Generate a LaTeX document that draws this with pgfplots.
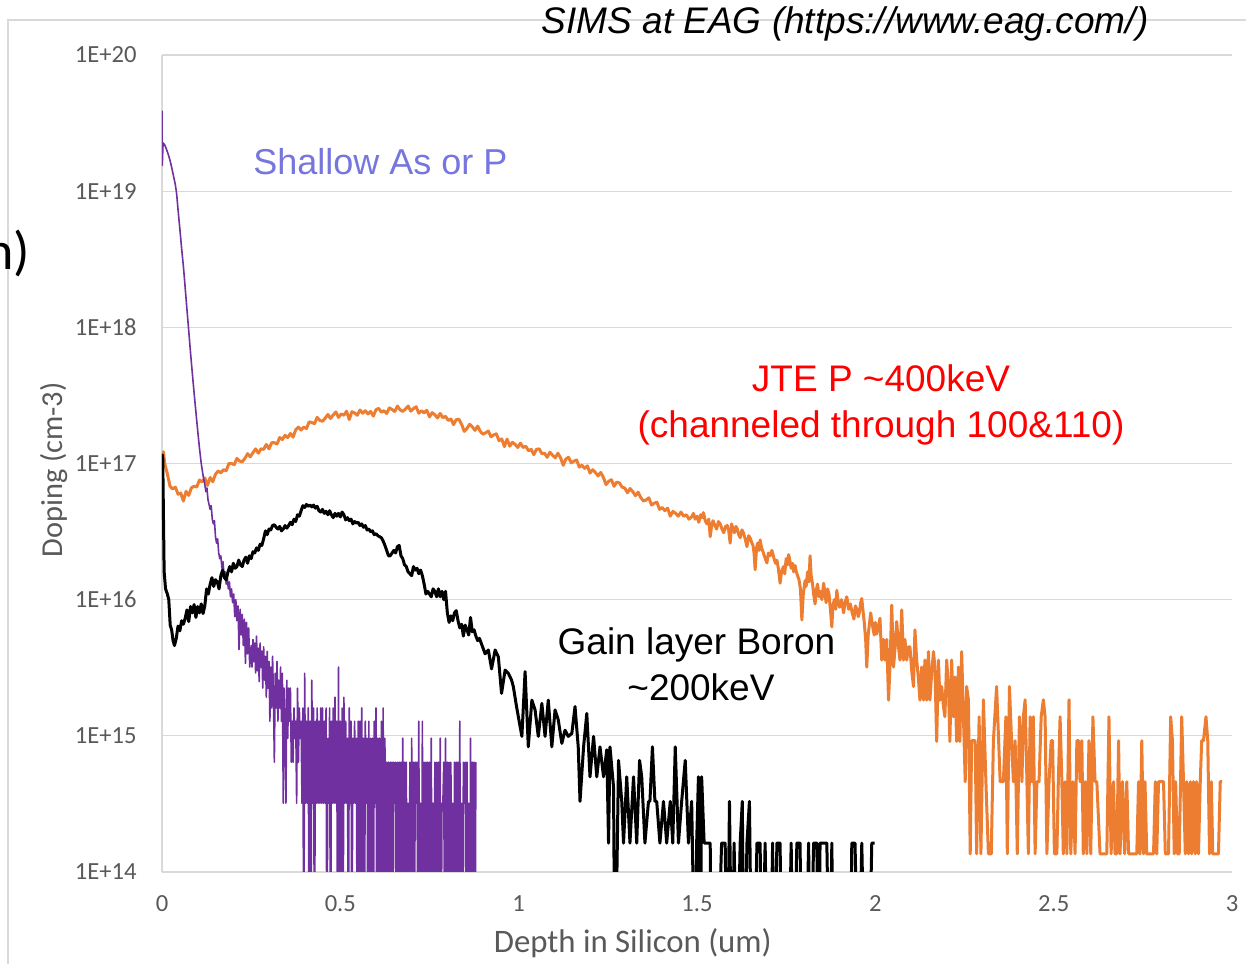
\documentclass[border=0pt]{standalone}
\usepackage{pgfplots}
\pgfplotsset{compat=1.18}
\usepackage{fontspec}
\setmainfont{Carlito}
\newfontfamily\arialf{Liberation Sans}
\definecolor{gridgray}{HTML}{D9D9D9}
\definecolor{txtgray}{HTML}{595959}
\definecolor{xlorange}{HTML}{ED7D31}
\definecolor{xlpurple}{HTML}{7030A0}
\definecolor{lblblue}{RGB}{118,118,222}
\begin{document}
\begin{tikzpicture}
\useasboundingbox (-81pt,-45.5pt) rectangle (542pt,436pt);
\draw[gridgray, line width=0.6pt] (-77pt,-60pt) -- (-77pt,426pt) -- (560pt,426pt);
\node[anchor=base east, font=\fontsize{27}{30}\selectfont, inner sep=0pt] at (-65.75pt,301pt) {n)};
\begin{axis}[
  width=535pt, height=408.5pt, scale only axis,
  xmin=0, xmax=3, ymin=1e14, ymax=1e20, ymode=log,
  axis x line*=bottom, axis y line*=left,
  axis line style={gridgray, line width=0.6pt, -},
  ymajorgrids, grid style={gridgray, line width=0.6pt},
  xtick={0,0.5,1,1.5,2,2.5,3}, xticklabels={0,0.5,1,1.5,2,2.5,3},
  ytick={1e14,1e15,1e16,1e17,1e18,1e19,1e20},
  yticklabels={1E+14,1E+15,1E+16,1E+17,1E+18,1E+19,1E+20},
  major tick length=0pt, minor tick length=0pt, yminorticks=false,
  tick label style={font=\fontsize{12.3}{14}\selectfont, text=txtgray, inner sep=0pt},
  xticklabel style={anchor=north, yshift=-11.5pt},
  yticklabel style={anchor=east, xshift=-12.5pt},
  xlabel={Depth in Silicon (um)}, ylabel={Doping (cm-3)},
  xlabel style={font=\fontsize{16.4}{19}\selectfont, text=txtgray, inner sep=0pt, at={(axis description cs:0.440,-0.098)}, anchor=base},
  ylabel style={font=\fontsize{15.2}{18}\selectfont, text=txtgray, inner sep=0pt, at={(axis description cs:-0.0929,0.492)}, anchor=base},
]
% ---------------- JTE P (orange) ----------------
\addplot[xlorange, line width=1.5pt, line join=round, mark=none] table {
x y
0.000 8.7e16
0.004 12.2e16
0.0075 10.0e16
0.015 8.4e16
0.0225 6.8e16
0.030 6.5e16
0.0375 6.7e16
0.045 5.95e16
0.0525 6.06e16
0.060 5.3e16
0.0675 6.24e16
0.075 5.83e16
0.0825 6.63e16
0.090 6.8e16
0.0975 6.72e16
0.105 7.56e16
0.1125 7.33e16
0.120 7.83e16
0.1275 6.9e16
0.135 7.88e16
0.1425 7.35e16
0.150 8.34e16
0.1575 8.82e16
0.165 8.53e16
0.1725 9.0e16
0.180 8.84e16
0.1875 9.98e16
0.195 10.0e16
0.2025 9.8e16
0.210 10.9e16
0.2175 10.4e16
0.225 10.3e16
0.2325 10.9e16
0.240 11.8e16
0.2475 11.2e16
0.255 12.0e16
0.2625 12.8e16
0.270 11.9e16
0.2775 12.8e16
0.285 12.7e16
0.2925 13.8e16
0.300 12.8e16
0.3075 14.2e16
0.315 14.2e16
0.3225 13.9e16
0.330 15.5e16
0.3375 15.0e16
0.345 16.1e16
0.3525 15.5e16
0.360 16.6e16
0.3675 15.6e16
0.375 17.7e16
0.3825 18.5e16
0.390 17.6e16
0.3975 18.5e16
0.405 18.05e16
0.4125 20.2e16
0.420 20.0e16
0.4275 19.6e16
0.435 21.8e16
0.4425 20.7e16
0.450 20.4e16
0.4575 21.5e16
0.465 22.9e16
0.4725 21.4e16
0.480 22.7e16
0.4875 23.9e16
0.495 21.8e16
0.5025 23.1e16
0.510 22.6e16
0.5175 24.2e16
0.525 21.0e16
0.5325 24.0e16
0.540 23.5e16
0.5475 22.6e16
0.555 24.7e16
0.5625 23.4e16
0.570 24.4e16
0.5775 23.1e16
0.585 24.1e16
0.5925 22.3e16
0.600 24.8e16
0.6075 25.4e16
0.615 23.8e16
0.6225 24.4e16
0.630 23.3e16
0.6375 25.6e16
0.645 24.9e16
0.6525 24.1e16
0.660 26.4e16
0.6675 24.75e16
0.675 24.1e16
0.6825 25.1e16
0.690 26.4e16
0.6975 24.25e16
0.705 25.3e16
0.7125 26.1e16
0.720 23.4e16
0.7275 24.4e16
0.735 23.5e16
0.7425 24.6e16
0.750 22.0e16
0.7575 23.6e16
0.765 22.8e16
0.7725 21.6e16
0.780 23.3e16
0.7875 21.7e16
0.795 22.2e16
0.8025 20.7e16
0.810 21.2e16
0.8175 19.3e16
0.825 21.0e16
0.8325 21.1e16
0.840 19.4e16
0.8475 17.2e16
0.855 18.1e16
0.8625 19.4e16
0.870 18.6e16
0.8775 17.5e16
0.885 18.8e16
0.8925 17.2e16
0.900 16.4e16
0.9075 16.8e16
0.915 17.3e16
0.9225 15.7e16
0.930 16.2e16
0.9375 16.5e16
0.945 14.7e16
0.9525 15.15e16
0.960 13.3e16
0.9675 15.1e16
0.975 13.4e16
0.9825 14.3e16
0.990 13.8e16
0.9975 13.1e16
1.005 14.1e16
1.0125 13.1e16
1.020 13.4e16
1.0275 12.4e16
1.035 12.7e16
1.0425 11.6e16
1.050 12.7e16
1.0575 12.8e16
1.065 11.8e16
1.0725 11.9e16
1.080 11.1e16
1.0875 12.1e16
1.095 11.5e16
1.1025 11.0e16
1.110 11.9e16
1.1175 11.0e16
1.125 9.7e16
1.1325 10.8e16
1.140 11.1e16
1.1475 10.1e16
1.155 10.4e16
1.1625 10.6e16
1.170 9.4e16
1.1775 9.7e16
1.185 9.2e16
1.1925 9.6e16
1.200 8.5e16
1.2075 9.0e16
1.215 8.6e16
1.2225 8.1e16
1.230 8.6e16
1.2375 7.9e16
1.245 7.0e16
1.2525 7.4e16
1.260 7.6e16
1.2675 6.8e16
1.275 7.3e16
1.2825 7.2e16
1.290 6.7e16
1.2975 6.6e16
1.305 6.1e16
1.3125 6.55e16
1.320 6.2e16
1.3275 5.8e16
1.335 6.15e16
1.3425 5.6e16
1.350 5.3e16
1.3575 5.4e16
1.365 5.6e16
1.3725 4.95e16
1.380 5.1e16
1.3875 5.2e16
1.395 4.6e16
1.4025 4.75e16
1.410 4.5e16
1.4175 4.7e16
1.425 4.1e16
1.4325 4.45e16
1.440 4.3e16
1.4475 4.1e16
1.455 4.4e16
1.4625 4.1e16
1.470 4.2e16
1.4775 3.9e16
1.485 4.05e16
1.490 4.3e16
1.495 3.9e16
1.500 4.1e16
1.505 3.7e16
1.510 4.2e16
1.514 4.0e16
1.518 4.35e16
1.523 3.8e16
1.528 3.6e16
1.533 3.9e16
1.537 2.9e16
1.541 3.5e16
1.545 3.8e16
1.550 3.5e16
1.555 3.3e16
1.560 3.75e16
1.565 3.6e16
1.570 3.3e16
1.575 3.1e16
1.580 3.45e16
1.585 3.5e16
1.589 3.2e16
1.593 2.6e16
1.597 3.6e16
1.601 3.3e16
1.605 3.1e16
1.609 3.45e16
1.613 3.3e16
1.617 3.0e16
1.621 2.85e16
1.626 3.25e16
1.630 3.1e16
1.635 2.8e16
1.640 2.45e16
1.645 2.95e16
1.650 2.8e16
1.654 2.6e16
1.657 2.5e16
1.660 2.2e16
1.663 1.66e16
1.667 2.4e16
1.670 2.6e16
1.674 2.3e16
1.677 2.75e16
1.681 2.4e16
1.685 2.25e16
1.690 2.05e16
1.696 1.86e16
1.700 2.2e16
1.705 2.1e16
1.710 2.3e16
1.715 2.05e16
1.720 1.85e16
1.724 1.95e16
1.728 1.7e16
1.733 1.32e16
1.737 1.6e16
1.742 1.75e16
1.746 1.55e16
1.750 2.0e16
1.754 1.8e16
1.757 2.14e16
1.761 1.9e16
1.764 1.7e16
1.768 1.85e16
1.771 1.6e16
1.775 1.78e16
1.778 1.62e16
1.782 1.5e16
1.786 1.4e16
1.790 1.2e16
1.794 0.71e16
1.798 1.1e16
1.803 1.38e16
1.806 1.25e16
1.810 1.6e16
1.814 1.35e16
1.817 2.1e16
1.820 1.5e16
1.824 1.3e16
1.827 1.1e16
1.831 0.93e16
1.835 1.2e16
1.838 1.3e16
1.842 1.05e16
1.846 1.15e16
1.850 1.0e16
1.855 1.32e16
1.859 1.1e16
1.862 0.95e16
1.866 1.2e16
1.870 1.1e16
1.874 0.85e16
1.878 0.63e16
1.881 0.9e16
1.885 1.0e16
1.889 0.85e16
1.892 1.17e16
1.896 0.95e16
1.900 0.88e16
1.905 1.0e16
1.911 0.8e16
1.915 0.95e16
1.920 1.05e16
1.925 0.85e16
1.930 0.93e16
1.935 0.8e16
1.940 0.72e16
1.944 0.9e16
1.948 0.85e16
1.952 0.75e16
1.955 0.8e16
1.959 0.95e16
1.962 1.02e16
1.966 0.8e16
1.969 0.68e16
1.973 0.5e16
1.976 0.32e16
1.980 0.55e16
1.983 0.65e16
1.987 0.8e16
1.990 0.7e16
1.994 0.6e16
1.997 0.55e16
2.000 0.68e16
2.004 0.56e16
2.008 0.62e16
2.013 7.3e15
2.018 3.6e15
2.023 5.1e15
2.027 3.6e15
2.032 5.1e15
2.037 1.83e15
2.041 3.2e15
2.046 9.1e15
2.051 3.2e15
2.055 4.3e15
2.060 6.9e15
2.065 4.5e15
2.069 3.6e15
2.074 8.4e15
2.079 3.6e15
2.083 5.1e15
2.088 3.6e15
2.093 4.5e15
2.097 4.5e15
2.102 3.0e15
2.107 2.3e15
2.111 6.0e15
2.116 3.6e15
2.121 2.6e15
2.125 1.83e15
2.130 3.2e15
2.135 1.83e15
2.139 3.6e15
2.144 1.83e15
2.149 4.15e15
2.153 1.83e15
2.158 2.9e15
2.163 4.15e15
2.167 3.2e15
2.172 9.1e14
2.177 3.6e15
2.181 1.83e15
2.186 2.3e15
2.191 1.64e15
2.195 1.38e15
2.200 3.6e15
2.205 2.3e15
2.209 9.1e14
2.214 3.6e15
2.219 1.38e15
2.223 2.7e15
2.228 9.1e14
2.233 3.2e15
2.237 9.1e14
2.242 4.15e15
2.247 1.38e15
2.252 4.6e14
2.256 2.3e15
2.261 1.83e15
2.266 1.36e14
2.270 9.2e14
2.280 9.2e14
2.284 1.36e14
2.291 1.38e15
2.296 1.36e14
2.303 1.84e15
2.310 4.6e14
2.317 1.36e14
2.325 1.36e14
2.331 9.2e14
2.340 2.3e15
2.350 4.6e14
2.359 4.6e14
2.366 1.38e15
2.370 1.36e14
2.376 2.3e15
2.382 9.2e14
2.387 4.6e14
2.392 9.2e14
2.398 1.36e14
2.404 1.38e15
2.411 4.6e14
2.415 1.38e15
2.420 1.84e15
2.425 4.6e14
2.429 1.36e14
2.434 1.38e15
2.439 4.6e14
2.443 1.38e15
2.448 1.36e14
2.453 4.6e14
2.459 4.6e14
2.465 1.38e15
2.471 1.84e15
2.476 1.38e15
2.481 1.36e14
2.487 4.6e14
2.493 9.2e14
2.497 9.2e14
2.502 1.36e14
2.509 1.36e14
2.513 4.6e14
2.518 1.38e15
2.523 4.6e14
2.527 1.36e14
2.532 4.6e14
2.537 1.36e14
2.543 1.84e15
2.548 1.36e14
2.554 4.6e14
2.560 1.36e14
2.565 9.2e14
2.570 9.2e14
2.574 4.6e14
2.579 9.2e14
2.583 1.36e14
2.588 4.6e14
2.593 1.36e14
2.599 9.2e14
2.604 1.36e14
2.610 1.38e15
2.616 4.6e14
2.621 4.6e14
2.630 1.36e14
2.644 1.36e14
2.649 1.36e14
2.655 1.38e15
2.661 1.36e14
2.668 4.6e14
2.672 1.36e14
2.677 1.36e14
2.682 9.2e14
2.686 1.36e14
2.693 4.6e14
2.699 1.36e14
2.705 4.6e14
2.710 1.36e14
2.714 1.36e14
2.733 1.36e14
2.738 4.6e14
2.742 1.36e14
2.747 9.2e14
2.752 1.36e14
2.756 4.6e14
2.761 1.36e14
2.780 1.36e14
2.785 4.6e14
2.789 1.36e14
2.794 4.6e14
2.799 4.6e14
2.803 4.6e14
2.808 4.6e14
2.813 1.36e14
2.817 1.36e14
2.822 1.36e14
2.828 1.38e15
2.833 9.2e14
2.838 1.36e14
2.842 4.6e14
2.847 1.36e14
2.852 1.36e14
2.859 1.38e15
2.864 4.6e14
2.869 1.36e14
2.873 4.6e14
2.878 1.36e14
2.883 4.6e14
2.887 1.36e14
2.892 4.6e14
2.897 1.36e14
2.901 4.6e14
2.906 1.36e14
2.911 4.6e14
2.915 9.2e14
2.920 9.2e14
2.927 1.38e15
2.932 9.2e14
2.937 1.36e14
2.942 4.6e14
2.946 1.36e14
2.951 1.36e14
2.958 1.36e14
2.962 1.36e14
2.967 4.6e14
2.972 4.6e14
};
% ---------------- Shallow As or P (purple) ----------------
\addplot[xlpurple, line width=0.8pt, line join=round, mark=none] table {
x y
0.0000 3.9e19
0.0008 1.55e19
0.0030 2.26e19
0.0070 2.2e19
0.0120 2.05e19
0.0170 1.88e19
0.0220 1.7e19
0.0270 1.5e19
0.0320 1.3e19
0.0370 1.13e19
0.0410 9.6e18
0.0450 7.3e18
0.0500 5.3e18
0.0550 3.8e18
0.0600 2.8e18
0.0650 1.95e18
0.0700 1.35e18
0.0750 9.4e17
0.0800 6.5e17
0.0850 4.6e17
0.0900 3.3e17
0.0950 2.4e17
0.1000 1.75e17
0.1050 1.3e17
0.1100 1.0e17
0.1150 8.2e16
0.1200 7.0e16
0.1230 6.2e16
0.1260 6.6e16
0.1290 5.4e16
0.1320 5.0e16
0.1350 4.6e16
0.1380 4.9e16
0.1410 3.9e16
0.1440 3.6e16
0.1470 3.8e16
0.1500 2.9e16
0.1530 2.6e16
0.1560 2.8e16
0.1590 2.2e16
0.1620 2.0e16
0.1650 2.1e16
0.1680 1.7e16
0.1710 1.9e16
0.1740 1.5e16
0.1770 1.6e16
0.1800 1.3e16
0.1830 1.45e16
0.1860 1.2e16
0.1890 1.35e16
0.1920 1.05e16
0.1950 1.2e16
0.1980 9.5e15
0.2010 1.1e16
0.2040 7.5e15
0.2070 1.0e16
0.2100 7.0e15
0.2130 9.0e15
0.2160 4.3e15
0.2190 8.5e15
0.2220 5.5e15
0.2250 7.8e15
0.2280 4.6e15
0.2310 7.2e15
0.2340 3.4e15
0.2370 6.8e15
0.2400 4.0e15
0.2430 6.2e15
0.2460 3.2e15
0.2500 4.6e15
0.2525 3.2e15
0.2550 5.1e15
0.2575 3.5e15
0.2600 4.8e15
0.2625 2.9e15
0.2650 5.4e15
0.2675 3.0e15
0.2700 4.4e15
0.2725 2.5e15
0.2750 4.8e15
0.2775 3.2e15
0.2800 4.2e15
0.2825 2.24e15
0.2850 4.5e15
0.2875 2.56e15
0.2900 3.84e15
0.2925 1.92e15
0.2950 4.16e15
0.2975 2.24e15
0.3000 3.52e15
0.3025 1.28e15
0.3050 3.2e15
0.3075 1.6e15
0.3100 3.84e15
0.3125 1.92e15
0.3150 6.4e14
0.3175 2.88e15
0.3200 1.6e15
0.3225 3.52e15
0.3250 1.28e15
0.3275 2.56e15
0.3300 1.6e15
0.3325 3.2e15
0.3350 1.28e15
0.3375 2.88e15
0.3400 3.2e14
0.3425 2.24e15
0.3450 1.28e15
0.3475 3.2e14
0.3500 2.56e15
0.3525 9.6e14
0.3550 2.24e15
0.3575 1.28e15
0.3600 2.24e15
0.3625 6.4e14
0.3650 1.28e15
0.3675 6.4e14
0.3700 1.6e15
0.3725 9.6e14
0.3750 1.28e15
0.3775 3.2e14
0.3800 2.24e15
0.3825 6.4e14
0.3850 1.6e15
0.3875 9.6e14
0.3900 1.28e15
0.3925 3.2e14
0.3950 1.6e15
0.3975 1e13
0.4000 2.88e15
0.4025 3.2e14
0.4050 1.28e15
0.4075 3.2e14
0.4100 1.6e15
0.4125 1e13
0.4150 1.28e15
0.4175 1e13
0.4200 2.56e15
0.4225 3.2e14
0.4250 1.6e15
0.4275 1e13
0.4300 1.28e15
0.4325 3.2e14
0.4350 1.6e15
0.4375 3.2e14
0.4400 1.28e15
0.4425 3.2e14
0.4450 1.6e15
0.4475 3.2e14
0.4500 1.6e15
0.4525 3.2e14
0.4550 1.28e15
0.4575 3.2e14
0.4600 1.6e15
0.4625 1e13
0.4650 9.6e14
0.4675 3.2e14
0.4700 1.6e15
0.4725 1e13
0.4750 1.28e15
0.4775 3.2e14
0.4800 1.6e15
0.4825 3.2e14
0.4850 1.92e15
0.4875 3.2e14
0.4900 1.28e15
0.4925 1e13
0.4950 3.2e15
0.4975 1e13
0.5000 1.28e15
0.5025 1e13
0.5050 1.6e15
0.5075 1e13
0.5100 1.92e15
0.5125 3.2e14
0.5150 1.28e15
0.5175 3.2e14
0.5200 9.6e14
0.5225 1e13
0.5250 1.6e15
0.5275 3.2e14
0.5300 1.28e15
0.5325 1e13
0.5350 9.6e14
0.5375 3.2e14
0.5400 1.28e15
0.5425 3.2e14
0.5450 9.6e14
0.5475 1e13
0.5500 1.28e15
0.5525 1e13
0.5550 1.28e15
0.5575 1e13
0.5600 1.6e15
0.5625 1e13
0.5650 9.6e14
0.5675 1e13
0.5700 1.28e15
0.5725 3.2e14
0.5750 9.6e14
0.5775 1e13
0.5800 1.28e15
0.5825 1e13
0.5850 9.6e14
0.5875 1e13
0.5900 9.6e14
0.5925 1e13
0.5950 1.28e15
0.5975 3.2e14
0.6000 1.6e15
0.6025 1e13
0.6050 9.6e14
0.6075 1e13
0.6100 9.6e14
0.6125 1e13
0.6150 1.28e15
0.6175 1e13
0.6200 1.6e15
0.6225 1e13
0.6250 9.6e14
0.6275 1e13
0.6300 6.4e14
0.6325 1e13
0.6350 6.4e14
0.6375 1e13
0.6400 6.4e14
0.6425 1e13
0.6450 6.4e14
0.6475 1e13
0.6500 6.4e14
0.6525 3.2e14
0.6550 6.4e14
0.6575 1e13
0.6600 6.4e14
0.6625 1e13
0.6650 6.4e14
0.6675 1e13
0.6700 6.4e14
0.6725 1e13
0.6750 9.6e14
0.6775 1e13
0.6800 6.4e14
0.6825 1e13
0.6850 6.4e14
0.6875 1e13
0.6900 3.2e14
0.6925 1e13
0.6950 6.4e14
0.6975 1e13
0.7000 9.6e14
0.7025 1e13
0.7050 6.4e14
0.7075 1e13
0.7100 6.4e14
0.7125 3.2e14
0.7150 6.4e14
0.7175 1e13
0.7200 1.28e15
0.7225 1e13
0.7250 3.2e14
0.7275 1e13
0.7300 1.28e15
0.7325 1e13
0.7350 6.4e14
0.7375 1e13
0.7400 6.4e14
0.7425 1e13
0.7450 6.4e14
0.7475 1e13
0.7500 6.4e14
0.7525 1e13
0.7550 9.6e14
0.7575 1e13
0.7600 3.2e14
0.7625 1e13
0.7650 6.4e14
0.7675 1e13
0.7700 6.4e14
0.7725 1e13
0.7750 6.4e14
0.7775 1e13
0.7800 9.6e14
0.7825 1e13
0.7850 3.2e14
0.7875 3.2e14
0.7900 6.4e14
0.7925 1e13
0.7950 9.6e14
0.7975 1e13
0.8000 6.4e14
0.8025 1e13
0.8050 6.4e14
0.8075 1e13
0.8100 6.4e14
0.8125 1e13
0.8150 3.2e14
0.8175 1e13
0.8200 6.4e14
0.8225 1e13
0.8250 6.4e14
0.8275 1e13
0.8300 6.4e14
0.8325 1e13
0.8350 1.28e15
0.8375 1e13
0.8400 3.2e14
0.8425 1e13
0.8450 6.4e14
0.8475 3.2e14
0.8500 6.4e14
0.8525 1e13
0.8550 6.4e14
0.8575 1e13
0.8600 3.2e14
0.8625 1e13
0.8650 9.6e14
0.8675 1e13
0.8700 6.4e14
0.8725 1e13
0.8750 6.4e14
0.8775 1e13
0.8800 6.4e14
};
% ---------------- Gain layer Boron (black) ----------------
\addplot[black, line width=1.5pt, line join=round, mark=none] table {
x y
0.000 1.0e17
0.002 1.15e17
0.006 1.6e16
0.010 1.2e16
0.015 1.1e16
0.019 1.0e16
0.023 6.5e15
0.027 6.0e15
0.031 5.0e15
0.035 4.6e15
0.040 5.2e15
0.045 6.4e15
0.050 5.9e15
0.055 7.0e15
0.060 6.6e15
0.065 7.3e15
0.070 8.4e15
0.075 6.9e15
0.080 8.9e15
0.085 8.0e15
0.090 9.2e15
0.095 7.4e15
0.100 8.9e15
0.105 8.0e15
0.110 9.3e15
0.115 7.9e15
0.120 9.0e15
0.125 1.2e16
0.130 1.1e16
0.135 1.3e16
0.140 1.45e16
0.145 1.25e16
0.150 1.4e16
0.155 1.35e16
0.160 1.2e16
0.165 1.5e16
0.170 1.65e16
0.175 1.45e16
0.180 1.4e16
0.185 1.6e16
0.190 1.75e16
0.195 1.6e16
0.200 1.85e16
0.205 1.7e16
0.210 1.75e16
0.215 1.95e16
0.220 1.8e16
0.225 1.75e16
0.230 1.95e16
0.235 2.05e16
0.240 1.85e16
0.245 2.1e16
0.250 2.0e16
0.255 2.25e16
0.260 2.2e16
0.265 2.4e16
0.270 2.3e16
0.275 2.55e16
0.280 2.5e16
0.285 2.8e16
0.290 3.2e16
0.295 3.0e16
0.300 3.3e16
0.305 3.25e16
0.310 3.5e16
0.315 3.55e16
0.320 3.4e16
0.325 3.3e16
0.330 3.45e16
0.335 3.2e16
0.340 3.3e16
0.345 3.5e16
0.350 3.35e16
0.355 3.5e16
0.360 3.7e16
0.365 3.55e16
0.370 3.9e16
0.375 3.75e16
0.380 4.2e16
0.385 4.1e16
0.390 4.5e16
0.395 4.9e16
0.400 4.75e16
0.405 5.0e16
0.410 4.85e16
0.415 4.95e16
0.420 4.8e16
0.425 4.95e16
0.430 4.7e16
0.435 4.85e16
0.440 4.5e16
0.445 4.4e16
0.450 4.6e16
0.455 4.3e16
0.460 4.45e16
0.465 4.2e16
0.470 4.5e16
0.475 4.2e16
0.480 4.0e16
0.485 4.3e16
0.490 4.1e16
0.495 4.3e16
0.500 4.05e16
0.505 4.4e16
0.510 4.2e16
0.515 3.85e16
0.520 4.0e16
0.525 3.8e16
0.530 3.9e16
0.535 3.6e16
0.540 3.75e16
0.545 3.65e16
0.550 3.7e16
0.555 3.5e16
0.560 3.6e16
0.565 3.4e16
0.570 3.5e16
0.575 3.25e16
0.580 3.3e16
0.585 3.15e16
0.590 3.2e16
0.595 3.0e16
0.600 3.05e16
0.605 2.95e16
0.610 2.9e16
0.615 2.85e16
0.620 2.7e16
0.625 2.5e16
0.630 2.3e16
0.635 2.1e16
0.640 2.1e16
0.645 2.2e16
0.650 2.3e16
0.655 2.2e16
0.660 2.45e16
0.665 2.5e16
0.670 2.1e16
0.675 2.0e16
0.680 1.8e16
0.685 1.75e16
0.690 1.6e16
0.695 1.55e16
0.700 1.5e16
0.705 1.75e16
0.710 1.65e16
0.715 1.7e16
0.720 1.55e16
0.725 1.65e16
0.730 1.5e16
0.735 1.3e16
0.740 1.1e16
0.745 1.15e16
0.750 1.1e16
0.755 1.05e16
0.760 1.2e16
0.765 1.15e16
0.770 1.05e16
0.775 1.2e16
0.780 1.05e16
0.785 1.15e16
0.790 1.0e16
0.795 1.15e16
0.800 8.0e15
0.805 6.8e15
0.810 7.6e15
0.815 7.0e15
0.820 8.0e15
0.825 8.3e15
0.830 7.0e15
0.835 6.2e15
0.840 6.6e15
0.845 5.4e15
0.850 6.5e15
0.855 6.0e15
0.860 5.5e15
0.865 7.4e15
0.870 5.8e15
0.875 6.0e15
0.880 5.4e15
0.885 5.0e15
0.890 5.2e15
0.906 4.0e15
0.915 4.27e15
0.924 3.1e15
0.934 4.27e15
0.943 3.8e15
0.952 2.05e15
0.962 3.04e15
0.971 2.88e15
0.980 2.57e15
0.985 2.3e15
0.994 1.64e15
1.009 9.9e14
1.018 2.96e15
1.027 8.3e14
1.037 1.83e15
1.046 1.55e15
1.055 9.9e14
1.065 1.73e15
1.074 9.9e14
1.083 1.83e15
1.093 8.3e14
1.102 1.55e15
1.111 1.31e15
1.121 8.8e14
1.130 1.1e15
1.139 9.9e14
1.149 1.04e15
1.158 1.64e15
1.167 8.3e14
1.172 3.3e14
1.182 8.3e14
1.191 1.46e15
1.200 5.0e14
1.210 9.9e14
1.219 5.0e14
1.228 8.3e14
1.238 5.0e14
1.247 7.9e14
1.252 1.63e14
1.256 8.3e14
1.266 4.2e14
1.270 1e13
1.280 6.6e14
1.289 3.3e14
1.294 1.63e14
1.303 5.0e14
1.312 1.63e14
1.322 5.0e14
1.331 1.63e14
1.339 6.6e14
1.345 5.0e14
1.354 1.63e14
1.364 3.3e14
1.368 3.3e14
1.375 8.3e14
1.382 3.3e14
1.387 3.3e14
1.396 1.63e14
1.406 3.3e14
1.415 1.63e14
1.425 3.3e14
1.432 1.63e14
1.439 8.3e14
1.448 1.63e14
1.457 3.3e14
1.467 6.6e14
1.476 1.63e14
1.485 3.3e14
1.495 1e13
1.499 1.63e14
1.504 5.0e14
1.509 1e13
1.513 5.0e14
1.520 1.63e14
1.527 1.63e14
1.537 1.63e14
1.541 1e13
1.546 1e13
1.555 1e13
1.569 1.63e14
1.579 1.63e14
1.585 1e13
1.591 3.3e14
1.598 1e13
1.604 1.63e14
1.612 1e13
1.621 1.63e14
1.627 3.3e14
1.632 1e13
1.640 1.63e14
1.647 3.3e14
1.654 1e13
1.660 1e13
1.668 1.63e14
1.677 1.63e14
1.682 1e13
1.691 1.63e14
1.698 1e13
1.705 1e13
1.712 1.63e14
1.716 1e13
1.724 1.63e14
1.733 1.63e14
1.738 1e13
1.747 1e13
1.756 1e13
1.764 1.63e14
1.770 1e13
1.780 1.63e14
1.789 1.63e14
1.794 1e13
1.803 1e13
1.813 1.63e14
1.817 1e13
1.827 1.63e14
1.836 1.63e14
1.841 1e13
1.845 1.63e14
1.855 1.63e14
1.864 1.63e14
1.872 1e13
1.878 1.63e14
1.883 1e13
1.929 1e13
1.934 1.63e14
1.943 1.63e14
1.953 1e13
1.962 1.63e14
1.971 1e13
1.981 1e13
1.990 1.63e14
1.998 1.63e14
};
\node[anchor=base, font=\arialf\fontsize{18}{21}\selectfont, text=lblblue, inner sep=0pt] at (rel axis cs:0.2042,0.8543) {Shallow As or P};
\node[anchor=base, font=\arialf\fontsize{18.5}{22}\selectfont, text=red, inner sep=0pt] at (rel axis cs:0.672,0.5875) {JTE P \textasciitilde400keV};
\node[anchor=base, font=\arialf\fontsize{18.5}{22}\selectfont, text=red, inner sep=0pt] at (rel axis cs:0.672,0.5324) {(channeled through 100\&110)};
\node[anchor=base, font=\arialf\fontsize{18.5}{22}\selectfont, text=black, inner sep=0pt] at (rel axis cs:0.4995,0.2656) {Gain layer Boron};
\node[anchor=base, font=\arialf\fontsize{18.5}{22}\selectfont, text=black, inner sep=0pt] at (rel axis cs:0.5037,0.2105) {\textasciitilde200keV};
\end{axis}
\node[anchor=base, font=\arialf\itshape\fontsize{18.5}{22}\selectfont, inner sep=0pt] at (341.5pt,419pt) {SIMS at EAG (https://www.eag.com/)};
\end{tikzpicture}
\end{document}
